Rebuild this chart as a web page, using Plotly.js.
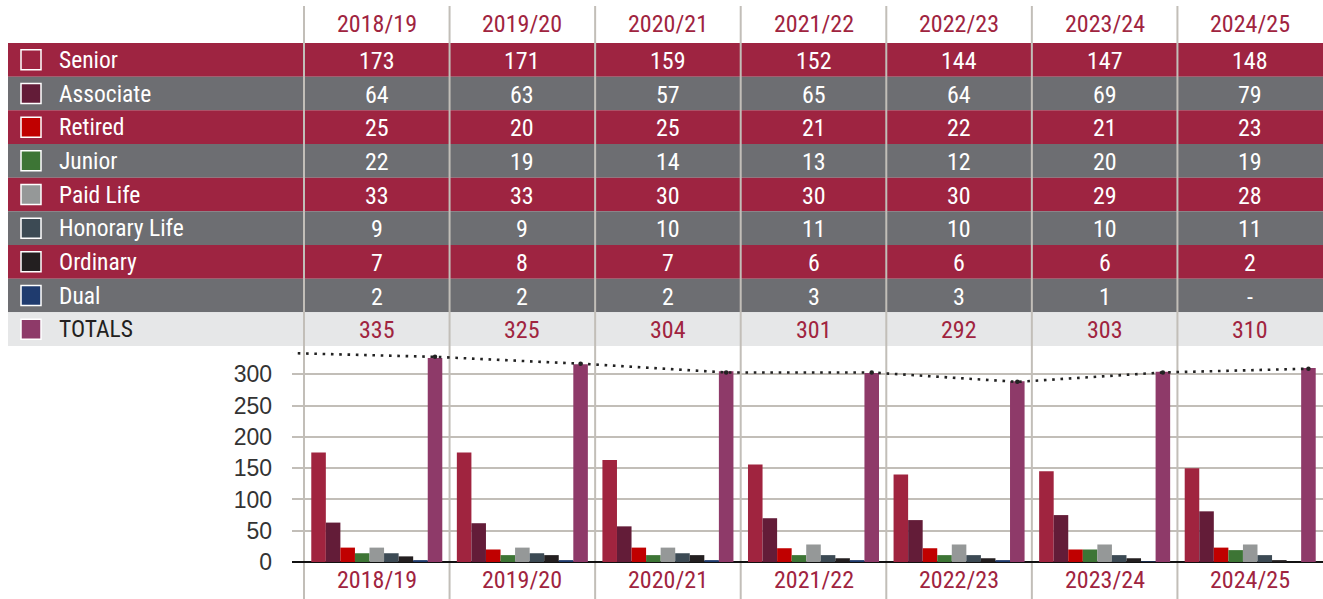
<!DOCTYPE html>
<html>
<head>
<meta charset="utf-8">
<script src="https://cdn.plot.ly/plotly-3.0.1.min.js"></script>
<style>
  html, body { margin: 0; padding: 0; background: #ffffff; }
  #chart { width: 1323px; height: 599px; }
</style>
</head>
<body>
<div id="chart"></div>
<script>
// ---------------- DATA ----------------
const years = ['2018/19', '2019/20', '2020/21', '2021/22', '2022/23', '2023/24', '2024/25'];
const categories = ['Senior', 'Associate', 'Retired', 'Junior', 'Paid Life', 'Honorary Life', 'Ordinary', 'Dual'];

// Table values (null shown as "-")
const tblSenior   = [173, 171, 159, 152, 144, 147, 148];
const tblAssociate = [64, 63, 57, 65, 64, 69, 79];
const tblRetired  = [25, 20, 25, 21, 22, 21, 23];
const tblJunior   = [22, 19, 14, 13, 12, 20, 19];
const tblPaidLife = [33, 33, 30, 30, 30, 29, 28];
const tblHonorary = [9, 9, 10, 11, 10, 10, 11];
const tblOrdinary = [7, 8, 7, 6, 6, 6, 2];
const tblDual     = [2, 2, 2, 3, 3, 1, null];
const tblTotals   = [335, 325, 304, 301, 292, 303, 310];

// Bar heights as drawn in the chart
const barSenior    = [175, 175, 163, 156, 140, 145, 150];
const barAssociate = [63, 62, 57, 70, 67, 75, 81];
const barRetired   = [23, 20, 23, 22, 22, 20, 23];
const barJunior    = [14, 11, 11, 11, 11, 20, 19];
const barPaidLife  = [23, 23, 23, 28, 28, 28, 28];
const barHonorary  = [14, 14, 14, 11, 11, 11, 11];
const barOrdinary  = [9, 11, 11, 6, 6, 6, 3];
const barDual      = [3, 3, 3, 3, 3, 1, 0];
const barTotals    = [326, 316, 305, 302, 289, 304, 310];

// Dotted trend line (starts one period before 2018/19)
const trendValues = [334, 328, 317, 303, 303, 288, 303, 309];

// ---------------- STYLE / LAYOUT ----------------
const W = 1323, H = 599;
const M = {l: 292, r: 0, t: 346, b: 37};
const plotW = W - M.l - M.r, plotH = H - M.t - M.b;
const colPx = 145.57;          // pixel width of one year column
const firstEdgePx = 304;       // left edge of first year column
const xMin = -0.5 - (firstEdgePx - M.l) / colPx;
const px2x = px => (px - M.l) / plotW;
const py2y = py => (H - M.b - py) / plotH;

const CRIMSON = '#9e2441';
const GREYROW = '#6d6e72';
const TOTROW = '#e6e7e8';
const GRID = '#c2beb8';
const NARROW = '"Roboto Condensed", "DejaVu Sans Condensed", sans-serif';

const seriesBars = [barSenior, barAssociate, barRetired, barJunior, barPaidLife, barHonorary, barOrdinary, barDual, barTotals];
const seriesTbl = [tblSenior, tblAssociate, tblRetired, tblJunior, tblPaidLife, tblHonorary, tblOrdinary, tblDual, tblTotals];
const seriesNames = categories.concat(['TOTALS']);
const seriesColors = ['#a0243f', '#631c38', '#c00000', '#3d7535', '#959898', '#3c4a54', '#231f20', '#1f3b6e', '#8e3a69'];
const swatchColors = ['#9e2441', '#631c38', '#c00000', '#3d7535', '#959898', '#3c4a54', '#231f20', '#1f3b6e', '#8e3a69'];

const xIdx = years.map((_, i) => i);

const traces = seriesBars.map((vals, k) => ({
  type: 'bar',
  name: seriesNames[k],
  x: xIdx,
  y: vals,
  marker: {color: seriesColors[k], line: {width: 0}},
  hoverinfo: 'skip'
}));

// trend line: positioned over the TOTALS bar of each group
const totalsOffset = 0.4;
traces.push({
  type: 'scatter',
  mode: 'lines+markers',
  x: trendValues.map((_, i) => i - 1 + totalsOffset),
  y: trendValues,
  line: {color: '#222222', width: 2.6, dash: '2.6px,5.7px'},
  marker: {color: '#222222', size: 4.5},
  hoverinfo: 'skip',
  showlegend: false
});

const shapes = [];
const annotations = [];
const tableTopPx = 43, rowH = 33.67;

// row backgrounds
for (let r = 0; r < 9; r++) {
  const fill = r === 8 ? TOTROW : (r % 2 === 0 ? CRIMSON : GREYROW);
  shapes.push({
    type: 'rect', xref: 'paper', yref: 'paper', layer: 'below',
    x0: px2x(8), x1: px2x(W), y0: py2y(tableTopPx + (r + 1) * rowH), y1: py2y(tableTopPx + r * rowH),
    fillcolor: fill, line: {width: 0}
  });
}
// vertical column separators
for (let i = 0; i < years.length; i++) {
  shapes.push({
    type: 'line', xref: 'x', yref: 'paper', layer: 'below',
    x0: i - 0.5, x1: i - 0.5, y0: py2y(H), y1: py2y(6),
    line: {color: GRID, width: 2}
  });
}
// swatches, row labels, values
for (let r = 0; r < 9; r++) {
  const cy = tableTopPx + (r + 0.5) * rowH;
  shapes.push({
    type: 'rect', xref: 'paper', yref: 'paper',
    x0: px2x(21), x1: px2x(41), y0: py2y(cy + 10), y1: py2y(cy - 10),
    fillcolor: swatchColors[r], line: {color: '#ffffff', width: 1.5}
  });
  const isTot = r === 8;
  annotations.push({
    xref: 'paper', yref: 'paper', x: px2x(57), y: py2y(cy), xanchor: 'left', yanchor: 'middle',
    text: seriesNames[r], showarrow: false,
    font: {family: NARROW, size: 23.5, color: isTot ? '#231f20' : '#ffffff'}
  });
  seriesTbl[r].forEach((v, i) => {
    annotations.push({
      xref: 'x', yref: 'paper', x: i, y: py2y(cy + 1), xanchor: 'center', yanchor: 'middle',
      text: v === null ? '-' : String(v), showarrow: false,
      font: {family: NARROW, size: 24, color: isTot ? '#a0243f' : '#ffffff'}
    });
  });
}
// header years and bottom years
years.forEach((yr, i) => {
  annotations.push({
    xref: 'x', yref: 'paper', x: i, y: py2y(24), xanchor: 'center', yanchor: 'middle',
    text: yr, showarrow: false, font: {family: NARROW, size: 24, color: '#a0243f'}
  });
  annotations.push({
    xref: 'x', yref: 'paper', x: i, y: py2y(580), xanchor: 'center', yanchor: 'middle',
    text: yr, showarrow: false, font: {family: NARROW, size: 24, color: '#a0243f'}
  });
});

const layout = {
  width: W, height: H,
  margin: M,
  paper_bgcolor: '#ffffff', plot_bgcolor: 'rgba(0,0,0,0)',
  showlegend: false,
  barmode: 'group', bargap: 0.1, bargroupgap: 0,
  xaxis: {
    type: 'linear', range: [xMin, years.length - 0.5],
    showgrid: false, zeroline: false, showticklabels: false, ticks: '', fixedrange: true
  },
  yaxis: {
    range: [0, plotH / 0.6255], tickmode: 'array', tickvals: [0, 50, 100, 150, 200, 250, 300],
    showgrid: true, gridcolor: GRID, gridwidth: 2,
    zeroline: true, zerolinecolor: '#111111', zerolinewidth: 2,
    ticks: '', ticklabelstandoff: 19,
    tickfont: {family: '"Liberation Sans", Arial, sans-serif', size: 23, color: '#333333'},
    fixedrange: true
  },
  shapes: shapes,
  annotations: annotations
};

Plotly.newPlot('chart', traces, layout, {displayModeBar: false, staticPlot: true});
</script>
</body>
</html>
